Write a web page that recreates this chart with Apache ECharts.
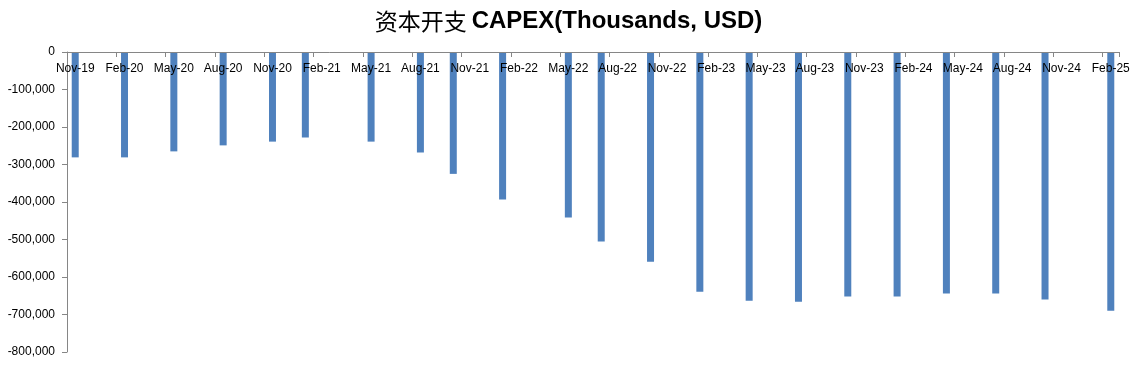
<!DOCTYPE html>
<html>
<head>
<meta charset="utf-8">
<script src="https://cdn.jsdelivr.net/npm/echarts@6/dist/echarts.min.js"></script>
<style>
html,body{margin:0;padding:0;background:#fff;}
#chart{width:1137px;height:365px;}
</style>
</head>
<body>
<div id="chart"></div>
<script>
// Axis month range (category slots, one per month)
var startYear = 2019, startMonth = 10; // Nov-2019 (0-based month)
var monthCount = 64;                    // through Feb-2025
var monthNames = ['Jan','Feb','Mar','Apr','May','Jun','Jul','Aug','Sep','Oct','Nov','Dec'];

// Reported periods and CAPEX values (thousands USD)
var barMonths = ['Nov-19','Feb-20','May-20','Aug-20','Nov-20','Jan-21','May-21','Aug-21','Oct-21','Jan-22','May-22','Jul-22','Oct-22','Jan-23','Apr-23','Jul-23','Oct-23','Jan-24','Apr-24','Jul-24','Oct-24','Feb-25'];
var capex = [-281000,-281000,-265000,-249000,-239000,-228000,-239000,-268000,-325000,-393000,-441000,-505000,-559000,-639000,-663000,-666000,-652000,-652000,-644000,-644000,-660000,-690000];

var months = [];
for (var i = 0; i < monthCount; i++) {
  var m = (startMonth + i) % 12;
  var y = startYear + Math.floor((startMonth + i) / 12);
  months.push(monthNames[m] + '-' + String(y).slice(2));
}
var seriesData = months.map(function (mm) {
  var k = barMonths.indexOf(mm);
  return k >= 0 ? capex[k] : '-';
});

var chart = echarts.init(document.getElementById('chart'));
chart.setOption({
  animation: false,
  backgroundColor: '#fff',
  title: {
    text: '{a|资本开支} {b|CAPEX(Thousands, USD)}',
    left: 'center',
    top: 4,
    textStyle: {
      rich: {
        a: { fontFamily: 'Noto Sans CJK SC', fontSize: 23, fontWeight: 'normal', color: '#000' },
        b: { fontFamily: 'Liberation Sans Narrow, Liberation Sans, Arial', fontSize: 24, fontWeight: 'bold', color: '#000' }
      }
    }
  },
  grid: { left: 67, right: 18, top: 52, bottom: 13, containLabel: false },
  xAxis: {
    type: 'category',
    position: 'top',
    z: 10,
    data: months,
    boundaryGap: true,
    axisLine: { onZero: false, lineStyle: { color: '#868686', width: 1 } },
    axisTick: { show: true, inside: true, interval: 2, length: 5, lineStyle: { color: '#868686' } },
    axisLabel: { inside: true, interval: 2, margin: 11, color: '#000', fontSize: 12, fontFamily: 'Liberation Sans, Arial' },
    splitLine: { show: false }
  },
  yAxis: {
    type: 'value',
    min: -800000,
    max: 0,
    interval: 100000,
    axisLine: { show: true, lineStyle: { color: '#868686', width: 1 } },
    axisTick: { show: true, length: 5, lineStyle: { color: '#868686' } },
    axisLabel: {
      margin: 12, color: '#000', fontSize: 12, fontFamily: 'Liberation Sans, Arial',
      formatter: function (v) { return v === 0 ? '0' : v.toLocaleString('en-US'); }
    },
    splitLine: { show: false }
  },
  series: [{
    type: 'bar',
    data: seriesData,
    barWidth: 7,
    itemStyle: { color: '#4F81BD' }
  }]
});
</script>
</body>
</html>
